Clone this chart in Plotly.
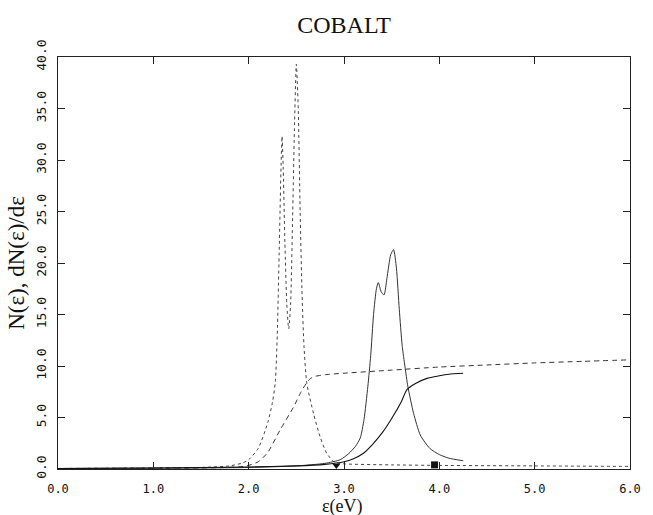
import plotly.graph_objects as go

# Dashed model: density dN/de
e_dash_dn = [0.0, 1.0, 1.5, 1.8, 1.94, 2.0, 2.1, 2.2, 2.25, 2.28, 2.30, 2.32, 2.34, 2.35, 2.36, 2.38, 2.40, 2.42,
             2.44, 2.46, 2.48, 2.50, 2.52, 2.54, 2.56, 2.58, 2.61, 2.68, 2.75, 2.82, 2.9, 3.0, 3.5, 4.0, 5.0, 6.0]
v_dash_dn = [0.05, 0.1, 0.15, 0.3, 0.6, 0.9, 2.0, 4.5, 6.5, 8.5, 13.0, 21.0, 29.5, 32.3, 30.0, 22.0, 16.0, 13.6,
             16.0, 24.0, 33.0, 39.3, 35.0, 25.0, 17.0, 12.0, 8.3, 5.4, 3.1, 1.5, 0.65, 0.5, 0.4, 0.35, 0.3, 0.25]

# Dashed model: integrated N(e)
e_dash_n = [0.0, 1.0, 1.5, 1.9, 2.0, 2.1, 2.2, 2.33, 2.47, 2.55, 2.61, 2.65, 2.7, 2.8, 3.0, 3.5, 4.0, 4.5, 5.0, 5.5, 6.0]
v_dash_n = [0.05, 0.08, 0.1, 0.2, 0.35, 0.7, 1.6, 3.8, 6.0, 7.5, 8.4, 8.8, 9.0, 9.15, 9.3, 9.6, 9.9, 10.1, 10.3, 10.45, 10.6]

# Solid model: density dN/de
e_solid_dn = [0.0, 1.0, 1.5, 2.0, 2.5, 2.8, 2.96, 3.05, 3.12, 3.17, 3.21, 3.25, 3.28, 3.31, 3.34, 3.36, 3.39, 3.42,
              3.45, 3.49, 3.52, 3.55, 3.58, 3.61, 3.64, 3.67, 3.73, 3.80, 3.9, 4.0, 4.1, 4.25]
v_solid_dn = [0.05, 0.08, 0.1, 0.15, 0.3, 0.55, 0.9, 1.5, 2.2, 3.0, 4.8, 8.0, 11.0, 15.0, 17.5, 18.1, 17.2, 16.9,
              18.5, 20.8, 21.3, 19.5, 15.5, 12.0, 9.9, 8.0, 5.4, 3.3, 2.0, 1.4, 1.05, 0.8]

# Solid model: integrated N(e)
e_solid_n = [0.0, 1.0, 2.0, 2.5, 2.8, 3.0, 3.1, 3.2, 3.3, 3.4, 3.5, 3.6, 3.66, 3.75, 3.87, 4.0, 4.1, 4.25]
v_solid_n = [0.05, 0.1, 0.2, 0.3, 0.45, 0.7, 1.0, 1.5, 2.4, 3.5, 4.9, 6.5, 7.7, 8.3, 8.8, 9.05, 9.2, 9.3]

# small markers near the baseline
e_marks = [2.92, 3.95]
v_marks = [0.35, 0.4]
mark_symbols = ["triangle-down", "square"]

x_ticks = [0, 1, 2, 3, 4, 5, 6]
x_labels = ["0.0", "1.0", "2.0", "3.0", "4.0", "5.0", "6.0"]
y_ticks = [0, 5, 10, 15, 20, 25, 30, 35, 40]
y_labels = ["0.0", "5.0", "10.0", "15.0", "20.0", "25.0", "30.0", "35.0", "40.0"]

fig = go.Figure()
fig.add_trace(go.Scatter(x=e_dash_dn, y=v_dash_dn, mode="lines",
                         line=dict(color="#444", width=1, dash="3px,3px", shape="spline", smoothing=0.6)))
fig.add_trace(go.Scatter(x=e_dash_n, y=v_dash_n, mode="lines",
                         line=dict(color="#333", width=1, dash="5px,4px", shape="spline", smoothing=0.6)))
fig.add_trace(go.Scatter(x=e_solid_dn, y=v_solid_dn, mode="lines",
                         line=dict(color="#333", width=1, shape="spline", smoothing=0.6)))
fig.add_trace(go.Scatter(x=e_solid_n, y=v_solid_n, mode="lines",
                         line=dict(color="#111", width=1.1, shape="spline", smoothing=0.6)))
fig.add_trace(go.Scatter(x=e_marks, y=v_marks, mode="markers",
                         marker=dict(symbol=mark_symbols, size=7, color="#111")))

axis_common = dict(showline=True, linecolor="#222", linewidth=1.2, mirror="ticks",
                   ticks="inside", ticklen=7, tickcolor="#222", showgrid=False, zeroline=False,
                   automargin=False)

fig.update_layout(
    width=653, height=515,
    margin=dict(l=58, r=23, t=57, b=46),
    paper_bgcolor="white", plot_bgcolor="white",
    showlegend=False,
    title=dict(text="COBALT", x=0.527, xanchor="center", y=0.952, yanchor="middle",
               font=dict(family="Liberation Serif", size=24, color="#111")),
    xaxis=dict(range=[0, 6], tickvals=x_ticks, ticktext=x_labels, ticklabelstandoff=8,
               tickfont=dict(family="DejaVu Sans Mono", size=12, color="#111"),
               **axis_common),
    yaxis=dict(range=[0, 40], tickvals=y_ticks, ticktext=y_labels, tickangle=-90, ticklabelstandoff=6,
               tickfont=dict(family="DejaVu Sans Mono", size=13, color="#111"),
               title=dict(text="N(ε), dN(ε)/dε", font=dict(family="Liberation Serif", size=23, color="#111"), standoff=2),
               **axis_common),
    annotations=[dict(text="ε(eV)", xref="paper", yref="paper", x=0.497, y=-0.09,
                      xanchor="center", yanchor="middle", showarrow=False,
                      font=dict(family="Liberation Serif", size=18, color="#111"))],
)

fig.write_html("out.html")
